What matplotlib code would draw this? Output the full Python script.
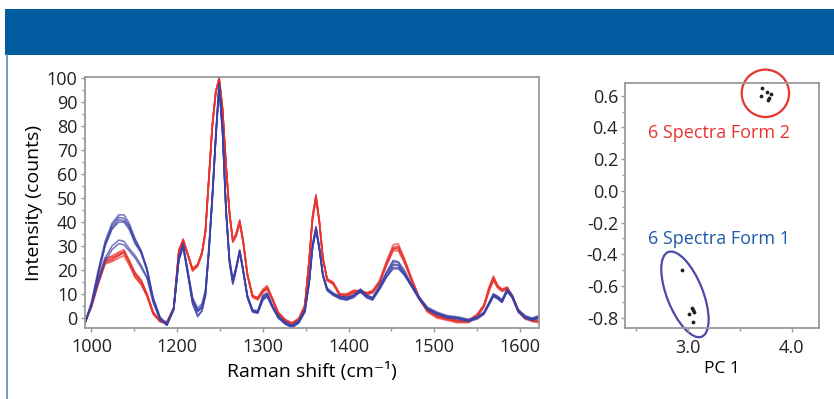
import matplotlib
matplotlib.use('Agg')
import matplotlib.pyplot as plt
from matplotlib.patches import Rectangle, Ellipse, Circle
from matplotlib.lines import Line2D
from matplotlib.transforms import ScaledTranslation
from matplotlib.ticker import MultipleLocator

plt.rcParams['font.family'] = ['Open Sans', 'DejaVu Sans']

# Raman shift grid (cm-1)
shift = [1093, 1100, 1108, 1116, 1124, 1132, 1138, 1144, 1151, 1158,
         1165, 1172, 1180, 1188, 1196, 1202, 1207, 1212, 1218, 1224,
         1229, 1233, 1237, 1241, 1245, 1249, 1253, 1257, 1261, 1265,
         1269, 1273, 1277, 1282, 1288, 1294, 1300, 1305, 1311, 1318,
         1326, 1334, 1342, 1349, 1354, 1358, 1362, 1366, 1370, 1375,
         1382, 1390, 1398, 1406, 1414, 1421, 1428, 1436, 1444, 1452,
         1458, 1465, 1473, 1482, 1492, 1503, 1515, 1527, 1540, 1550,
         1558, 1564, 1569, 1574, 1579, 1585, 1591, 1598, 1606, 1614, 1622]

# 6 spectra of form 2 (red)
form2_spectra = [
    [-1.5, 5.5, 15.5, 24, 26, 27.5, 28.5, 24, 18.5, 15.5,
     10, 2.5, -1, -2, 4.5, 28.5, 33, 27.5, 20.5, 22.5,
     27.5, 36.5, 58.5, 80.5, 94.5, 100, 87.5, 64.5, 44.5, 32.5,
     35.5, 41, 32.5, 18.5, 9.5, 8.5, 12, 13.5, 8.5, 2.5,
     -0.5, -2, 0, 5.5, 24.5, 43, 51.5, 40.5, 25.5, 16.5,
     15, 10, 10, 11.5, 11.5, 10.5, 11.5, 15.5, 23.5, 30.5,
     31, 25, 17, 9, 3, 0.5, -0.5, -1.5, -1, 1.5,
     5.5, 13, 17.5, 13.5, 12, 13, 9.5, 3, 0, -1, -1.5],
    [-1.5, 5, 15, 23.5, 24.5, 26.5, 27.5, 23, 18, 15,
     9.5, 2, -1.5, -2, 4, 28, 32.5, 27, 20, 22,
     27, 36, 58, 80, 94, 100, 87, 64, 44, 32,
     35, 40, 32, 18, 9, 8, 11, 12.5, 8, 2,
     -1, -2.5, -0.5, 5, 24, 42, 50.5, 40, 25, 16,
     14.5, 9.5, 9.5, 11, 11, 10, 11, 15, 22.5, 29,
     29.5, 24, 16.5, 8.5, 3, 0.5, -0.5, -1.5, -1.5, 1,
     5, 12, 16.5, 13, 11.5, 12.5, 9, 3, 0, -1, -1.5],
    [-1, 4.5, 14, 22.5, 23.5, 25, 26, 22, 17, 14,
     9, 1.5, -1.5, -2.5, 3.5, 27.5, 32, 26.5, 19.5, 21.5,
     26.5, 35.5, 57.5, 79.5, 93.5, 99.5, 86.5, 63.5, 43.5, 31.5,
     34, 39, 31.5, 17.5, 8.5, 7.5, 10.5, 12, 7.5, 1.5,
     -1.5, -3, -1, 4.5, 23.5, 41, 49.5, 39.5, 24.5, 15.5,
     14, 9, 9, 10.5, 10.5, 9.5, 10.5, 14.5, 21.5, 28,
     28, 23, 16, 8, 2.5, 0, -1, -2, -2, 0.5,
     4.5, 11, 15.5, 12.5, 11, 12, 8.5, 2.5, -0.5, -1.5, -2],
    [-1.5, 5, 16, 25, 25.5, 26, 27, 23.5, 17, 14,
     9, 2, -1, -1.5, 4, 28, 32.5, 27, 20, 22,
     27, 36, 58, 80, 94, 100, 87, 64, 44, 32,
     35, 40, 32, 18, 9, 8.5, 11.5, 13, 8, 2,
     -1, -2, -0.5, 5, 24, 41.5, 50, 39.5, 25, 16,
     14.5, 10, 10, 11.5, 11, 10.5, 11, 15, 22.5, 29.5,
     30, 24.5, 17, 8.5, 3, 1, 0, -1, -1.5, 1,
     5, 12.5, 16.5, 13, 11.5, 12.5, 9, 3, 0, -1, -1.5],
    [-1.5, 4.5, 14.5, 23, 24, 26, 28, 23.5, 19, 16,
     10, 2.5, -1, -2, 4, 27.5, 32.5, 27, 20.5, 22.5,
     27.5, 36, 58, 80, 94, 100, 87, 64, 44, 32,
     35, 40.5, 32, 18, 9.5, 8, 11, 12.5, 8, 2,
     -1, -2.5, -0.5, 5, 24, 42, 51, 40, 25, 16,
     14.5, 9.5, 9, 10.5, 11, 10, 10.5, 14.5, 22, 28.5,
     29, 24, 16.5, 9, 3.5, 1, 0, -1, -1, 1.5,
     5.5, 12, 16, 13, 11.5, 12.5, 9, 3.5, 0.5, -0.5, -1],
    [-1.5, 5, 15, 23.5, 25, 27, 27.5, 24, 18.5, 15,
     9.5, 2, -1.5, -2, 4, 28, 32, 27, 20, 22,
     27, 36, 58, 80, 94, 100, 87, 64, 44, 32,
     35, 40, 32, 18, 9, 8, 11, 12.5, 8, 2,
     -1, -2.5, -0.5, 5, 24, 42, 50.5, 40, 25, 16,
     14.5, 9.5, 9.5, 11, 11.5, 10.5, 11, 15, 22.5, 29,
     29, 24, 16.5, 8.5, 3, 0.5, -0.5, -1.5, -1.5, 1,
     5, 12.5, 17, 13.5, 12, 12.5, 9, 3, 0, -1, -1.5],
]

# 6 spectra of form 1 (blue)
form1_spectra = [
    [-1.5, 6.5, 20, 32, 39.5, 43, 43, 39.5, 33, 28,
     20.5, 8.5, 0.5, -2.5, 4, 25.5, 31, 20.5, 7.5, 3,
     5, 11, 29, 51, 76, 98, 79, 46, 24.5, 15.5,
     21.5, 28.5, 20.5, 9.5, 3.5, 3, 9.5, 10.5, 5.5, 1,
     -1.5, -3, -1, 3.5, 15.5, 30.5, 38, 29.5, 18.5, 12.5,
     10.5, 9, 8.5, 9.5, 12, 9.5, 8.5, 13.5, 19, 24,
     23.5, 20, 14.5, 9, 4.5, 2.5, 1, 0.5, -0.5, 0.5,
     2.5, 6.5, 10, 9, 7.5, 12, 9.5, 3.5, 1, 0, 1],
    [-1.5, 6, 19, 31, 38.5, 42, 41.5, 38.5, 32.5, 28,
     20, 8, 0, -2.5, 4, 25, 30.5, 20, 8, 3,
     4.5, 10, 28, 50, 75, 97, 78, 45, 24, 15,
     21, 28, 20, 9, 3, 2.5, 8.5, 10, 5, 0.5,
     -2, -3.5, -1.5, 3, 15, 30, 37.5, 29, 18, 12,
     10, 8.5, 8, 9, 11.5, 9, 8, 12.5, 18.5, 23.5,
     23, 19, 14, 8.5, 4, 2, 0.5, 0, -1, 0,
     2, 6, 9.5, 8.5, 7, 11.5, 9, 3, 0.5, -0.5, 0.5],
    [-1.5, 5.5, 18.5, 30.5, 37.5, 41, 40.5, 38, 31.5, 27,
     19.5, 7.5, -0.5, -3, 3.5, 24.5, 30, 19.5, 6, 1,
     3, 9, 27, 49, 74, 96.5, 77, 44, 23, 14,
     20.5, 27.5, 19.5, 8.5, 2.5, 2, 7.5, 9, 4.5, 0,
     -2.5, -4, -2, 2.5, 14.5, 29, 36.5, 28.5, 17.5, 11.5,
     9.5, 8, 7.5, 8.5, 11, 8.5, 7.5, 12, 17, 22,
     22, 18.5, 13.5, 8, 3.5, 1.5, 0, -0.5, -1.5, -0.5,
     1.5, 5.5, 9, 8, 6.5, 11, 8.5, 2.5, 0, -1, 0],
    [-1.5, 5.5, 18, 30, 37, 40, 40, 37, 31, 27.5,
     20, 8, 0, -2.5, 4, 25, 30.5, 19.5, 6, 0.5,
     3, 9.5, 27.5, 50, 75, 97, 78, 45, 24, 15,
     21, 28, 20, 9, 3, 2.5, 8, 9.5, 5, 0.5,
     -2, -3.5, -1.5, 3, 15, 30, 37, 28.5, 18, 12,
     10, 8.5, 8, 9.5, 12, 9.5, 8, 12, 17, 21,
     21, 18, 13.5, 8.5, 4, 2, 0.5, 0, -1, 0,
     2, 6, 9.5, 8.5, 7, 11.5, 9, 3, 0.5, -0.5, 0.5],
    [-1.5, 5.5, 16, 25, 30, 32.5, 32, 29, 26, 22,
     17, 7, -0.5, -3, 3.5, 24.5, 30, 20.5, 8.5, 4,
     6, 11.5, 29, 50.5, 75.5, 97.5, 78.5, 45.5, 25, 16,
     21.5, 28, 19.5, 9, 3, 2.5, 9, 10, 5, 0.5,
     -2, -3.5, -1.5, 3, 15, 30.5, 38, 29, 18, 12,
     10, 9, 8.5, 9.5, 11.5, 9.5, 8.5, 13, 18.5, 22.5,
     22, 18.5, 14, 8.5, 4, 2, 0.5, 0, -1, 0,
     2, 6.5, 10, 9, 7.5, 12, 9, 3, 0.5, -0.5, 0.5],
    [-1.5, 5, 15, 23.5, 28.5, 31, 30.5, 28, 25, 21,
     16.5, 6.5, -0.5, -3, 3.5, 24, 29.5, 19, 7, 2.5,
     4.5, 10, 27.5, 49.5, 74.5, 96.5, 77.5, 44.5, 23.5, 14.5,
     20.5, 27.5, 19.5, 8.5, 2.5, 2, 7.5, 9, 4.5, 0,
     -2.5, -4, -2, 2.5, 14.5, 29.5, 37, 28.5, 17.5, 11.5,
     9.5, 8, 7.5, 9, 11, 8.5, 7.5, 12, 17, 20.5,
     20.5, 18, 13.5, 8, 3.5, 1.5, 0.5, 0, -1, 0,
     2, 6, 9, 8, 6.5, 11, 8.5, 2.5, 0, -1, 0],
]

# x tick labels as printed in the figure
shift_ticks = [1100, 1200, 1300, 1400, 1500, 1600]
shift_labels = ['1000', '1200', '1300', '1400', '1500', '1600']

# PCA scores
pc1_form2 = [3.72, 3.76, 3.80, 3.71, 3.775, 3.78]
pc2_form2 = [0.648, 0.623, 0.611, 0.596, 0.571, 0.585]
pc1_form1 = [2.95, 3.045, 3.06, 3.015, 3.05, 3.055]
pc2_form1 = [-0.50, -0.74, -0.765, -0.777, -0.83, -0.75]

RED = '#E8352F'
BLUE = '#3A40A6'
GREY = '#9A9A9A'

fig = plt.figure(figsize=(8.34, 3.99), dpi=100)

# header band and left border
fig.patches.append(Rectangle((0.006, 0.862), 0.994, 0.115, transform=fig.transFigure,
                             facecolor='#005C9E', edgecolor='none'))
fig.add_artist(Line2D([0.0078, 0.0078], [0, 0.862], transform=fig.transFigure,
                      color='#4F8FCC', lw=1.2))

# ---- spectra ----
ax = fig.add_axes([0.1014, 0.1772, 0.5444, 0.6286])
for s in form2_spectra:
    ax.plot(shift, s, color=RED, lw=1.15, alpha=0.7)
for s in form1_spectra:
    ax.plot(shift, s, color=BLUE, lw=1.15, alpha=0.7)

ax.set_xlim(1092, 1621.7)
ax.set_ylim(-4.3, 100.3)
ax.set_xticks(shift_ticks)
ax.set_xticklabels(shift_labels)
ax.xaxis.set_minor_locator(MultipleLocator(50))
ax.yaxis.set_major_locator(MultipleLocator(10))
ax.yaxis.set_minor_locator(MultipleLocator(5))
ax.set_xlabel('Raman shift (cm⁻¹)', fontsize=14, labelpad=4)
ax.set_ylabel('Intensity (counts)', fontsize=14, labelpad=3)

# ---- PCA scores ----
ax2 = fig.add_axes([0.7494, 0.178, 0.2326, 0.614])
ax2.scatter(pc1_form2, pc2_form2, s=3, color='#222222', zorder=3)
ax2.scatter(pc1_form1, pc2_form1, s=3, color='#222222', zorder=3)
ax2.set_xlim(2.397, 4.264)
ax2.set_ylim(-0.865, 0.680)
ax2.set_xticks([3.0, 4.0])
ax2.set_xticklabels(['3.0', '4.0'])
ax2.xaxis.set_minor_locator(MultipleLocator(0.5))
ax2.set_yticks([0.6, 0.4, 0.2, 0.0, -0.2, -0.4, -0.6, -0.8])
ax2.set_yticklabels(['0.6', '0.4', '0.2', '0.0', '-0.2', '-0.4', '-0.6', '-0.8'])
ax2.yaxis.set_minor_locator(MultipleLocator(0.1))
ax2.set_xlabel('PC 1', fontsize=12.5, labelpad=3)

ax2.text(0.485, 0.796, '6 Spectra Form 2', transform=ax2.transAxes, color=RED,
         fontsize=13, ha='center', va='center')
ax2.text(0.485, 0.363, '6 Spectra Form 1', transform=ax2.transAxes, color='#1E5AAA',
         fontsize=13, ha='center', va='center')

# group outlines, sized in inches around a data anchor
tr2 = fig.dpi_scale_trans + ScaledTranslation(3.748, 0.615, ax2.transData)
ax2.add_patch(Circle((0, 0), 0.237, transform=tr2, fill=False, ec=RED, lw=1.6, clip_on=False))
tr1 = fig.dpi_scale_trans + ScaledTranslation(2.974, -0.653, ax2.transData)
ax2.add_patch(Ellipse((0, 0), 0.91, 0.36, angle=111.6, transform=tr1, fill=False,
                      ec='#4A4AA8', lw=1.6, clip_on=False))

for a in (ax, ax2):
    for sp in a.spines.values():
        sp.set_color(GREY)
        sp.set_linewidth(1.3)
    a.tick_params(which='both', color=GREY, direction='out', labelsize=13, labelcolor='#222222')
    a.tick_params(which='major', length=3, width=1)
    a.tick_params(which='minor', length=2, width=1)
ax.tick_params(axis='x', pad=4)
ax.tick_params(axis='y', pad=2)
ax2.tick_params(axis='y', pad=2)
ax2.tick_params(axis='x', pad=5)

fig.savefig('out.png', dpi=100)
